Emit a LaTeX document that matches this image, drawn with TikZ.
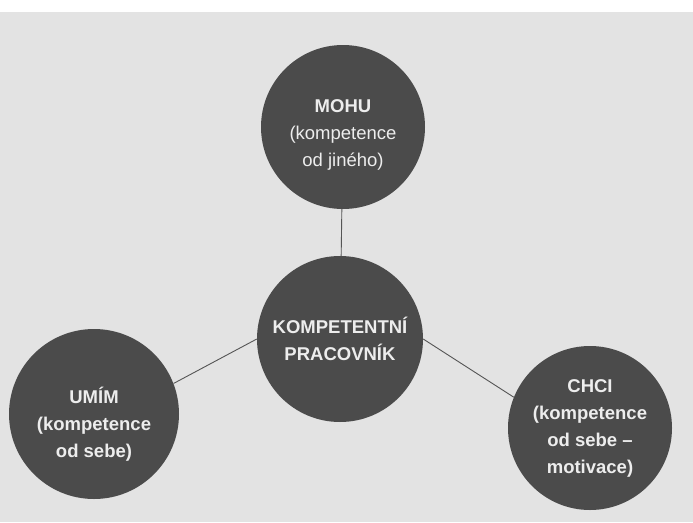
\documentclass[tikz,border=0pt]{standalone}
\usepackage{fontspec}
\setmainfont{Liberation Sans}
\begin{document}
\begin{tikzpicture}[x=1pt,y=-1pt,
  bubble/.style={circle,fill=circfill,draw=none,text=circtext,align=center,
    font=\fontsize{18.5}{27}\selectfont\bfseries,inner sep=0pt},
  label text/.style={text=circtext,align=center,font=\fontsize{18.5}{27}\selectfont},
  link/.style={draw=linecol,line width=0.9pt}]
\definecolor{circfill}{HTML}{4B4B4B}
\definecolor{circtext}{HTML}{EDEDED}
\definecolor{bgcol}{HTML}{E3E3E3}
\definecolor{linecol}{HTML}{555555}
\useasboundingbox (0,0) rectangle (693,522);
\fill[white] (0,0) rectangle (693,12);
\fill[bgcol] (0,12) rectangle (693,522);
\node[bubble,minimum size=164pt] (mohu) at (343,127) {};
\node[label text] (mohutext) at (343,135) {\bfseries MOHU\\(kompetence\\od jiného)};
\node[bubble,minimum size=166pt] (komp) at (340,339) {KOMPETENTNÍ\\PRACOVNÍK};
\node[bubble,minimum size=170pt] (umim) at (94,414) {};
\node[label text,font=\fontsize{18.5}{27}\selectfont\bfseries] (umimtext) at (94,424) {UMÍM\\(kompetence\\od sebe)};
\node[bubble,minimum size=164pt] (chci) at (590,428) {CHCI\\(kompetence\\od sebe –\\motivace)};
\draw[link] (mohu) -- (komp);
\draw[link] (komp.west) -- (umim.21);
\draw[link] (komp.east) -- (chci.158);
\end{tikzpicture}
\end{document}
